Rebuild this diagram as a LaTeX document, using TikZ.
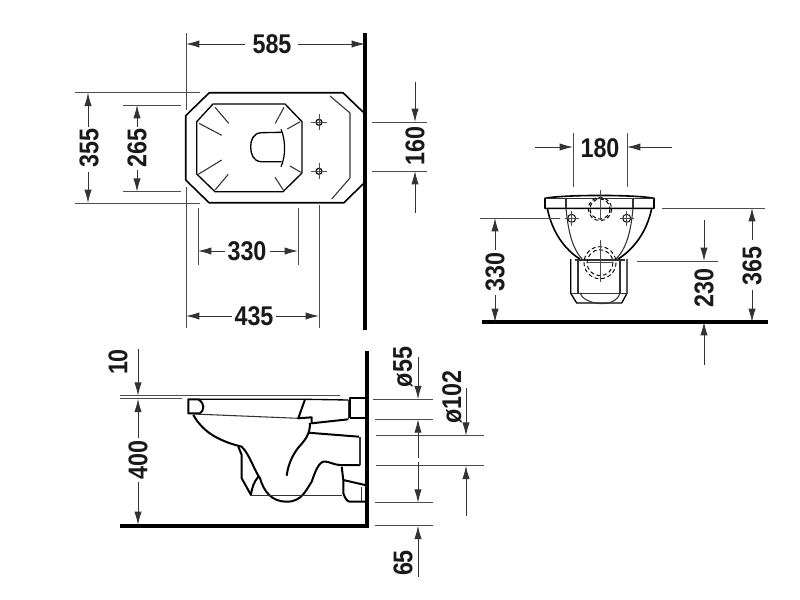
\documentclass[tikz,border=0pt]{standalone}
\usepackage{fontspec}
\setmainfont{Liberation Sans}
\usetikzlibrary{arrows.meta}
\newcommand{\dimtext}[1]{\scalebox{1}[1.16]{#1}}
\tikzset{
  x=0.75pt,y=-0.75pt,
  thinl/.style={line width=0.7pt,draw=black!70},
  obj/.style={line width=1.5pt,line join=round},
  med/.style={line width=0.8pt,draw=black!80},
  wallline/.style={line width=2.5pt},
  dimarr/.style={line width=0.7pt,draw=black!80,-{Latex[length=10pt,width=5.5pt]}},
  dimtxt/.style={font=\fontsize{17.5pt}{18pt}\selectfont\bfseries,inner sep=0pt,text=black!90},
  hole/.style={line width=0.7pt,densely dashed},
}
\begin{document}
\begin{tikzpicture}
\useasboundingbox (0,0) rectangle (800,600);
\fill[white] (0,0) rectangle (800,600);
% walls and floors
\draw[wallline] (365,33) -- (365,330);
\draw[wallline] (367,351) -- (367,526) -- (120,526);
\draw[wallline] (482,322) -- (768,322);
% ---- plan view
\draw[obj,line width=1.2pt] (363,112) -- (343,92.7) -- (209.3,92.7) -- (185.7,115.7) -- (185.7,180) -- (209,202.7) -- (344,202.7) -- (363,184);
\draw[med] (330,96) -- (350,113) -- (350,178) -- (331.7,199);
\draw[obj,line width=1pt] (213,104) -- (285,104) -- (302,121.7) -- (302,173) -- (283,191.7) -- (215,191.7) -- (196.7,174) -- (196.7,121.7) -- cycle;
\draw[med] (215,107.3)--(228.7,123.3) (199,123.3)--(221.7,135.3) (284,107.3)--(275.3,123.3) (300,121.7)--(287.3,129)
 (198.3,174.3)--(221.7,160) (215,190)--(228.3,174.3) (283.3,190)--(275,177.3) (301,172.3)--(290,166);
\draw[obj,line width=1pt] (281.7,132.3) -- (261,132.7) .. controls (253,133.5) and (250.7,140) .. (250.7,146.7) .. controls (250.7,154) and (253,161) .. (261,161.7) -- (281.7,161.7);
\draw[obj,line width=0.9pt] (281,129.3) .. controls (285,138) and (286.5,155) .. (281,166.7);
\foreach \yy in {122.3,171.3}{
  \draw[line width=0.9pt] (319,\yy) circle (3);
  \draw[thinl] (311,\yy) -- (327,\yy) (319,\yy-8) -- (319,\yy+8);
}
% plan dims
\draw[thinl] (186,33) -- (186,110) (186,187) -- (186,328) (319,205) -- (319,328) (198,208) -- (198,265) (298,208) -- (298,265);
\draw[thinl] (75,92.7) -- (200,92.7) (75,203) -- (200,203) (123,105) -- (181,105) (123,191.7) -- (181,191.7);
\draw[thinl] (372,122) -- (427,122) (372,171) -- (427,171);
\draw[dimarr] (245,44) -- (186,44); \draw[dimarr] (298,44) -- (365,44);
\draw[dimarr] (232,316) -- (186,316); \draw[dimarr] (276,316) -- (319,316);
\draw[dimarr] (225,251) -- (198,251); \draw[dimarr] (270,251) -- (298,251);
\draw[dimarr] (88,127) -- (88,92.7); \draw[dimarr] (88,172) -- (88,203);
\draw[dimarr] (137,127) -- (137,105); \draw[dimarr] (137,170) -- (137,191.7);
\draw[dimarr] (415,82) -- (415,122); \draw[dimarr] (415,213) -- (415,171);
\node[dimtxt] (t585) at (272,44) {\dimtext{585}};
\node[dimtxt] (t435) at (254,316) {\dimtext{435}};
\node[dimtxt] (t330a) at (247,251) {\dimtext{330}};
\node[dimtxt,rotate=90] (t355) at (89,148) {\dimtext{355}};
\node[dimtxt,rotate=90] (t265) at (137,148) {\dimtext{265}};
\node[dimtxt,rotate=90] (t160) at (415,146) {\dimtext{160}};
% ---- front view
\draw[obj,line width=1.2pt] (545,198.3) .. controls (565,194.5) and (635,194.5) .. (654,198.3) -- (654,208.3) -- (545,208.3) -- cycle;
\draw[med] (545,198.3) -- (654,198.3) (566,198.3) -- (566,208.3) (633,198.3) -- (633,208.3);
\draw[obj,line width=1.2pt] (547.3,208.3) .. controls (552,232) and (565,250) .. (580,259);
\draw[obj,line width=1.2pt] (651.7,208.3) .. controls (647,232) and (633,250) .. (618,259);
\draw[med] (566,208.3) .. controls (568,230) and (572,248) .. (582,259);
\draw[med] (633,208.3) .. controls (631,230) and (627,248) .. (616,259);
\draw[med] (575,260) -- (625,260);
\draw[obj,line width=1pt] (570.7,259) -- (570.7,293.3) -- (576.7,303) -- (621.7,303) -- (627,293.3) -- (627,259);
\draw[med] (578,260) -- (578,293) (620,260) -- (620,293) (570.7,293.3) -- (627,293.3);
\draw[med] (580,293) .. controls (583,304) and (615,310) .. (620,293);
\draw[hole] (600,209) circle (10) (600,209) circle (11.7) (600,262.7) circle (13) (600,262.7) circle (16);
\draw[thinl] (600,190) -- (600,220) (600,240) -- (600,282) (588,262.7) -- (612,262.7);
\foreach \xx in {571.7,626.7}{
  \draw[line width=0.7pt] (\xx,218.3) circle (4);
  \draw[thinl] (\xx-7,218.3) -- (\xx+7,218.3) (\xx,211) -- (\xx,226);
}
% front dims
\draw[thinl] (573,133) -- (573,187) (627,133) -- (627,187);
\draw[thinl] (480,218) -- (560,218) (662,208) -- (765,208) (637,261) -- (718,261);
\draw[dimarr] (535,147) -- (573,147); \draw[dimarr] (672,147) -- (627,147);
\draw[dimarr] (495,250) -- (495,218); \draw[dimarr] (495,295) -- (495,322);
\draw[dimarr] (752,240) -- (752,208); \draw[dimarr] (752,290) -- (752,322);
\draw[dimarr] (704,220) -- (704,261); \draw[dimarr] (704,365) -- (704,322);
\node[dimtxt] (t180) at (600,148) {\dimtext{180}};
\node[dimtxt,rotate=90] (t330b) at (495,272) {\dimtext{330}};
\node[dimtxt,rotate=90] (t365) at (752,266) {\dimtext{365}};
\node[dimtxt,rotate=90] (t230) at (704,288) {\dimtext{230}};
% ---- side view
\draw[thinl] (120,395.7) -- (340,395.7) (120,398.8) -- (182,398.8);
\draw[obj] (188.3,399.3) -- (198.3,399.3) .. controls (202,402) and (203.3,404) .. (203.3,406.7) .. controls (203.3,410) and (202,412) .. (200,413.3) -- (188.3,413.3) -- cycle;
\draw[obj,line width=1pt] (198.3,399.3) -- (305,399.3) -- (348.3,400);
\draw[obj] (305,399.3) -- (298.3,418.3) -- (311.7,417.3) -- (311.7,423.3) -- (348.3,419.3);
\draw[med] (193.3,414) -- (298.3,418.3);
\draw[obj] (350,418.3) -- (350,397.7) -- (365,397.7) (350,418.3) -- (365,418.3);
\draw[med] (348.3,400) -- (348.3,419.3);
\draw[obj] (193.3,415) .. controls (202,430) and (215,440) .. (241.7,446.7) .. controls (250,455) and (254,470) .. (260,478.3) .. controls (264,492) and (272,501.7) .. (286.7,501.7) .. controls (302,501.7) and (306,490) .. (311.7,481.7) .. controls (315,472) and (319,461) .. (325,461.5) .. controls (330,462) and (335,465) .. (340,465) -- (360,465);
\draw[med] (360,465) -- (360,436.7);
\draw[obj] (308.3,432.7) -- (359,436.7);
\draw[obj] (310,423) .. controls (310,435) and (305,440) .. (298,448) .. controls (292,456) and (288,465) .. (286.7,475.7);
\draw[obj] (238.3,446.7) -- (241.7,455) -- (241.7,478.3) -- (251,495) .. controls (252,487) and (254,482) .. (258.3,476.7);
\draw[med] (251,495.7) -- (341.7,495.7);
\draw[obj] (341.7,466.7) -- (343.3,480) -- (343.3,493.3) .. controls (345,498) and (347,501.7) .. (350,501.7) -- (365,501.7) (343.3,480) -- (365,485);
\draw[med] (361.7,487) -- (361.7,501);
% side dims
\draw[thinl] (373,399.3) -- (433,399.3) (375,419.3) -- (433,419.3) (375.7,435.7) -- (484,435.7) (375.7,465.7) -- (484,465.7) (375,502.7) -- (433,502.7) (375,525.7) -- (433,525.7);
\draw[dimarr] (418,356.7) -- (418,399.3);
\draw[dimarr] (418,458) -- (418,419.3); \draw[dimarr] (418,462) -- (418,502.7);
\draw[dimarr] (418,576.7) -- (418,525.7);
\draw[dimarr] (466,388) -- (466,435.7); \draw[dimarr] (466,515.7) -- (466,465.7);
\draw[dimarr] (138,349) -- (138,395.7);
\draw[dimarr] (138,438) -- (138,398.8); \draw[dimarr] (138,482) -- (138,525);
\node[dimtxt,rotate=90] (t55) at (403,367) {\dimtext{ø55}};
\node[dimtxt,rotate=90] (t102) at (452,397) {\dimtext{ø102}};
\node[dimtxt,rotate=90] (t65) at (403,563) {\dimtext{65}};
\node[dimtxt,rotate=90] (t10) at (118,362) {\dimtext{10}};
\node[dimtxt,rotate=90] (t400) at (138,460) {\dimtext{400}};
\end{tikzpicture}
\end{document}
